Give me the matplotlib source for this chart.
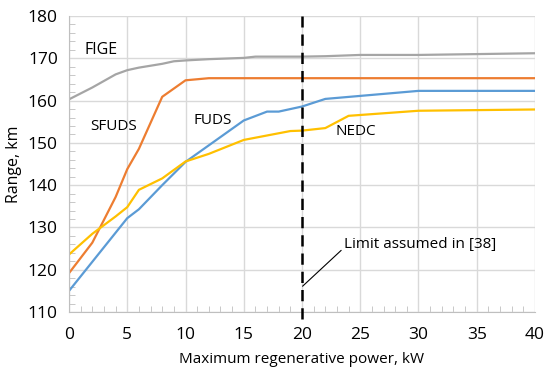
import matplotlib
matplotlib.use("Agg")
import matplotlib.pyplot as plt
from matplotlib.ticker import MultipleLocator

plt.rcParams["font.family"] = ["Open Sans", "DejaVu Sans"]

# data (kW, km)
fige_x = [0, 2, 4, 5, 6, 8, 9, 10, 12, 15, 16, 20, 22, 25, 30, 40]
fige_y = [160.3, 163.1, 166.2, 167.2, 167.8, 168.7, 169.3, 169.5, 169.8, 170.1, 170.4, 170.4, 170.5, 170.8, 170.8, 171.2]

sfuds_x = [0, 2, 4, 5, 6, 8, 10, 12, 40]
sfuds_y = [119.2, 126.4, 137.2, 143.8, 148.6, 160.9, 164.8, 165.3, 165.3]

fuds_x = [0, 5, 6, 8, 10, 15, 17, 18, 20, 22, 30, 40]
fuds_y = [115.0, 132.2, 134.3, 140.0, 145.5, 155.3, 157.4, 157.4, 158.6, 160.4, 162.3, 162.3]

nedc_x = [0, 2, 4, 5, 6, 8, 10, 12, 15, 19, 20, 22, 24, 30, 40]
nedc_y = [123.6, 128.5, 132.6, 134.8, 138.9, 141.6, 145.6, 147.4, 150.7, 152.8, 152.9, 153.5, 156.4, 157.6, 157.9]

limit_x = 20

fig = plt.figure(figsize=(5.5, 3.73), dpi=100)
ax = fig.add_axes([0.1255, 0.1635, 0.8472, 0.7935])

ax.plot(fige_x, fige_y, color="#A5A5A5", lw=1.6)
ax.plot(sfuds_x, sfuds_y, color="#ED7D31", lw=1.6)
ax.plot(fuds_x, fuds_y, color="#5B9BD5", lw=1.6)
ax.plot(nedc_x, nedc_y, color="#FFC000", lw=1.6)

ax.vlines(limit_x, 108.3, 180, colors="black", lw=1.8, linestyles=(0, (4.5, 2.8)), clip_on=False, zorder=5)

ax.set_xlim(0, 40)
ax.set_ylim(110, 180)
ax.xaxis.set_major_locator(MultipleLocator(5))
ax.xaxis.set_minor_locator(MultipleLocator(1))
ax.yaxis.set_major_locator(MultipleLocator(10))
ax.yaxis.set_minor_locator(MultipleLocator(2))
ax.grid(True, which="major", color="#D9D9D9", lw=1.0)
ax.set_axisbelow(True)
ax.tick_params(which="major", length=0, labelsize=12.5, pad=8)
ax.tick_params(axis="x", which="major", pad=11)
ax.tick_params(which="minor", direction="in", length=4, color="#BFBFBF")
for s in ["top", "right"]:
    ax.spines[s].set_visible(False)
for s in ["left", "bottom"]:
    ax.spines[s].set_color("#BFBFBF")

ax.set_xlabel("Maximum regenerative power, kW", fontsize=11, labelpad=6)
ax.set_ylabel("Range, km", fontsize=11.5, labelpad=4)

ax.text(1.3, 172, "FIGE", fontsize=11.5, va="center")
ax.text(1.8, 153.8, "SFUDS", fontsize=11, va="center")
ax.text(10.7, 155.2, "FUDS", fontsize=11, va="center")
ax.text(22.9, 152.6, "NEDC", fontsize=11, va="center")
ax.annotate("Limit assumed in [38]", xy=(20.05, 116.1), xytext=(23.6, 125.9),
            fontsize=11, va="center", ha="left",
            arrowprops=dict(arrowstyle="-", color="black", lw=0.8, shrinkA=0, shrinkB=0,
                            relpos=(0, 0.3)))

fig.savefig("out.png", dpi=100)
